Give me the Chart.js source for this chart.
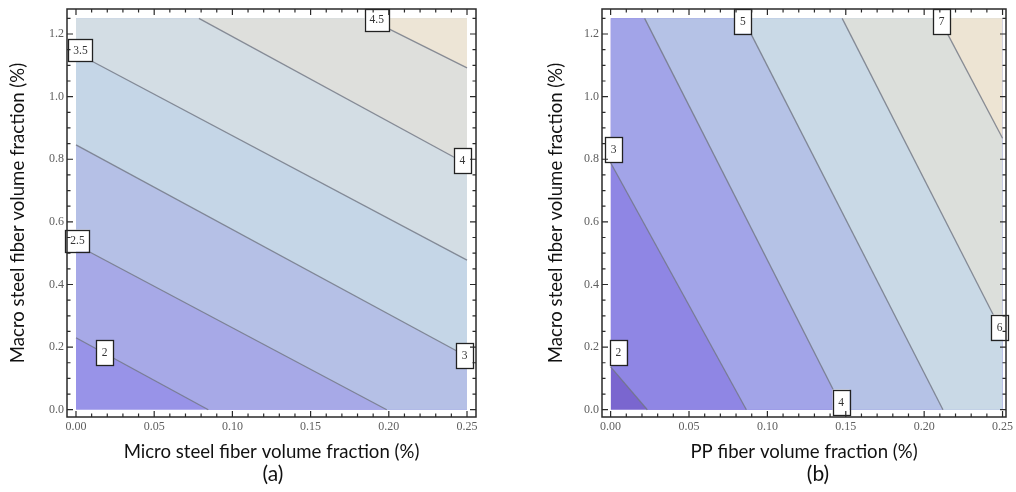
<!DOCTYPE html>
<html>
<head>
<meta charset="utf-8">
<script src="https://cdn.jsdelivr.net/npm/chart.js@4.4.1/dist/chart.umd.min.js"></script>
<style>
  body { margin: 0; background: #ffffff; }
  #wrap { position: relative; width: 1016px; height: 492px; overflow: hidden; background: #fff; }
  canvas { position: absolute; top: 0; }
  .cap { position: absolute; font-family: Lato, "Open Sans", sans-serif; font-size: 21px; line-height: 24px; color: #111; transform: translateX(-50%); white-space: nowrap; }
</style>
</head>
<body>
<div id="wrap">
  <canvas id="chartA" width="508" height="492" style="left:0px"></canvas>
  <canvas id="chartB" width="508" height="492" style="left:508px"></canvas>
  <div class="cap" style="left:273px; top:461px">(a)</div>
  <div class="cap" style="left:818px; top:461px">(b)</div>
</div>
<script>
// ---------- shared axis data ----------
const xTickValues = [0, 0.05, 0.10, 0.15, 0.20, 0.25];
const yTickValues = [0, 0.2, 0.4, 0.6, 0.8, 1.0, 1.2];
const xDomain = [0, 0.25];
const yDomain = [0, 1.25];

// ---------- panel (a) ----------
const levelsA = ['2', '2.5', '3', '3.5', '4', '4.5'];
const startXA = [0, 0, 0, 0, 0.0786, 0.1866];
const startYA = [0.23, 0.527, 0.846, 1.14, 1.25, 1.25];
const endXA   = [0.0846, 0.1987, 0.25, 0.25, 0.25, 0.25];
const endYA   = [0, 0, 0.17, 0.478, 0.784, 1.092];
const bandColorsA = ['#9893e8', '#a7a9e7', '#b5c0e6', '#c5d6e7', '#d3dde4', '#dedfdc', '#ede5d6'];
const labelXA = [0.0183, 0.001, 0.2484, 0.0029, 0.247, 0.1923];
const labelYA = [0.182, 0.54, 0.173, 1.148, 0.795, 1.245];

// ---------- panel (b) ----------
const levelsB = ['2', '3', '4', '5', '6', '7'];
const startXB = [0, 0, 0.0217, 0.0845, 0.1477, 0.2097];
const startYB = [0.137, 0.789, 1.25, 1.25, 1.25, 1.25];
const endXB   = [0.0234, 0.0866, 0.1485, 0.212, 0.25, 0.25];
const endYB   = [0, 0, 0, 0, 0.245, 0.867];
const bandColorsB = ['#7a66cf', '#8f86e4', '#a2a4e8', '#b5c2e6', '#c9d9e6', '#dcdfdb', '#ede4d3'];
const labelXB = [0.0049, 0.0019, 0.147, 0.0843, 0.2481, 0.2111];
const labelYB = [0.182, 0.830, 0.0246, 1.241, 0.264, 1.240];

const titleFont = { family: 'Lato, "Open Sans", sans-serif', size: 18.6 };
const tickFont = { family: '"Liberation Serif", "DejaVu Serif", serif', size: 12 };

// region above a contour line (inside the domain), filled up to the top of the domain
function regionAbove(sx, sy, ex, ey) {
  const pts = [];
  if (sx > xDomain[0]) pts.push({ x: xDomain[0], y: yDomain[1] });
  pts.push({ x: sx, y: sy });
  pts.push({ x: ex, y: ey });
  if (ex < xDomain[1]) pts.push({ x: xDomain[1], y: yDomain[0] });
  return pts;
}

function buildDatasets(sx, sy, ex, ey, colors) {
  const ds = [];
  // contour strokes (on top)
  for (let i = 0; i < sx.length; i++) {
    ds.push({
      data: [{ x: sx[i], y: sy[i] }, { x: ex[i], y: ey[i] }],
      borderColor: 'rgba(112,118,130,0.8)', borderWidth: 1.3,
      pointRadius: 0, fill: false, order: 0
    });
  }
  // background band (below lowest contour)
  ds.push({
    data: [{ x: xDomain[0], y: yDomain[0] }, { x: xDomain[1], y: yDomain[0] }],
    borderWidth: 0, borderColor: 'rgba(0,0,0,0)', backgroundColor: colors[0],
    pointRadius: 0, fill: { value: yDomain[1] }, order: 100
  });
  for (let i = 0; i < sx.length; i++) {
    ds.push({
      data: regionAbove(sx[i], sy[i], ex[i], ey[i]),
      borderWidth: 0, borderColor: 'rgba(0,0,0,0)', backgroundColor: colors[i + 1],
      pointRadius: 0, fill: { value: yDomain[1] }, order: 99 - i
    });
  }
  return ds;
}

const decorPlugin = {
  id: 'decor',
  afterDatasetsDraw(chart, args, opts) {
    const { ctx, chartArea: a, scales: { x, y } } = chart;
    ctx.save();
    // contour labels
    ctx.font = '11.5px "Liberation Serif", "DejaVu Serif", serif';
    ctx.textAlign = 'center';
    ctx.textBaseline = 'middle';
    opts.texts.forEach((t, i) => {
      const px = x.getPixelForValue(opts.lx[i]);
      const py = y.getPixelForValue(opts.ly[i]);
      const w = Math.max(17, ctx.measureText(t).width + 10);
      const h = t.length > 1 ? 22 : 25;
      ctx.fillStyle = '#ffffff';
      ctx.fillRect(px - w / 2, py - h / 2, w, h);
      ctx.strokeStyle = '#222';
      ctx.lineWidth = 1.3;
      ctx.strokeRect(Math.round(px - w / 2) + 0.5, Math.round(py - h / 2) + 0.5, Math.round(w), Math.round(h));
      ctx.fillStyle = '#333';
      ctx.fillText(t, px, py + 0.5);
    });
    // frame
    ctx.strokeStyle = '#2a2a2a';
    ctx.lineWidth = 1.5;
    ctx.strokeRect(a.left, a.top, a.right - a.left, a.bottom - a.top);
    // ticks (inward, on all four sides)
    ctx.lineWidth = 1.2;
    const tickX = (v, len) => {
      const p = x.getPixelForValue(v);
      ctx.beginPath();
      ctx.moveTo(p, a.bottom); ctx.lineTo(p, a.bottom - len);
      ctx.moveTo(p, a.top); ctx.lineTo(p, a.top + len);
      ctx.stroke();
    };
    const tickY = (v, len) => {
      const p = y.getPixelForValue(v);
      ctx.beginPath();
      ctx.moveTo(a.left, p); ctx.lineTo(a.left + len, p);
      ctx.moveTo(a.right, p); ctx.lineTo(a.right - len, p);
      ctx.stroke();
    };
    xTickValues.forEach(v => tickX(v, 6));
    for (let k = 0; k <= 25; k++) { if (k % 5) tickX(k / 100, 3.5); }
    yTickValues.forEach(v => tickY(v, 6));
    for (let k = 0; k <= 25; k++) { if (k % 4) tickY(k / 20, 3.5); }
    ctx.restore();
  }
};

function makeChart(id, p) {
  return new Chart(document.getElementById(id), {
    type: 'line',
    data: { datasets: buildDatasets(p.sx, p.sy, p.ex, p.ey, p.colors) },
    plugins: [decorPlugin],
    options: {
      responsive: false,
      animation: false,
      events: [],
      layout: { padding: { left: 0, top: 9, right: p.padRight, bottom: 0 } },
      plugins: {
        legend: { display: false },
        tooltip: { enabled: false },
        decor: { texts: p.texts, lx: p.lx, ly: p.ly }
      },
      scales: {
        x: {
          type: 'linear', min: p.xmin, max: p.xmax,
          grid: { display: false, drawTicks: false },
          border: { display: false },
          afterBuildTicks: s => { s.ticks = xTickValues.map(v => ({ value: v })); },
          afterFit: s => { s.height = 75; s.paddingLeft = 0; s.paddingRight = 0; },
          ticks: { font: tickFont, color: '#5e5e5e', padding: 3, maxRotation: 0, autoSkip: false,
                   callback: v => Number(v).toFixed(2) },
          title: { display: true, text: p.xTitle, font: titleFont, color: '#111', padding: { top: 0, bottom: 29 } }
        },
        y: {
          type: 'linear', min: -0.0233, max: 1.2799,
          grid: { display: false, drawTicks: false },
          border: { display: false },
          afterBuildTicks: s => { s.ticks = yTickValues.map(v => ({ value: v })); },
          afterFit: s => { s.width = p.yAxisW; s.paddingTop = 0; s.paddingBottom = 0; },
          ticks: { font: tickFont, color: '#5e5e5e', padding: 3, autoSkip: false,
                   callback: v => Number(v).toFixed(1) },
          title: { display: true, text: 'Macro steel fiber volume fraction (%)', font: titleFont, color: '#111',
                   padding: { top: p.yTitlePad, bottom: 0 } }
        }
      }
    }
  });
}

makeChart('chartA', {
  sx: startXA, sy: startYA, ex: endXA, ey: endYA, colors: bandColorsA,
  texts: levelsA, lx: labelXA, ly: labelYA,
  xmin: -0.00575, xmax: 0.25575, padRight: 32, yAxisW: 67, yTitlePad: 6.8,
  xTitle: 'Micro steel fiber volume fraction (%)'
});
makeChart('chartB', {
  sx: startXB, sy: startYB, ex: endXB, ey: endYB, colors: bandColorsB,
  texts: levelsB, lx: labelXB, ly: labelYB,
  xmin: -0.0055, xmax: 0.2522, padRight: 10, yAxisW: 94, yTitlePad: 36.8,
  xTitle: 'PP fiber volume fraction (%)'
});
</script>
</body>
</html>
